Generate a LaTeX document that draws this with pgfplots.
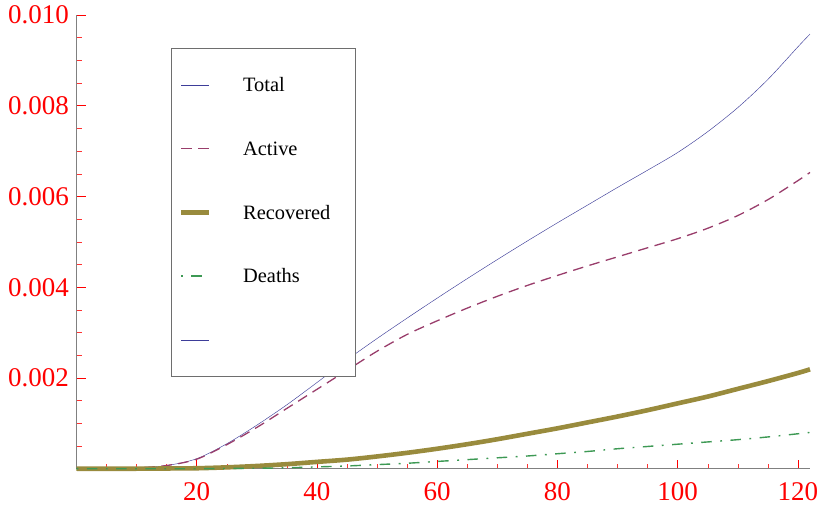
\documentclass[border=0pt]{standalone}
\usepackage{fontspec}
\setmainfont{Liberation Serif}
\usepackage{pgfplots}
\pgfplotsset{compat=1.18}
\definecolor{mBlue}{rgb}{0.24,0.24,0.6}
\definecolor{mPurple}{rgb}{0.6,0.24,0.42}
\definecolor{mOlive}{rgb}{0.6,0.545,0.24}
\definecolor{mGreen}{rgb}{0.24,0.6,0.33}
\begin{document}
\begin{tikzpicture}
\useasboundingbox (0,0) rectangle (830pt,514pt);
\begin{axis}[
  at={(76.5pt,45.3pt)}, anchor=south west,
  scale only axis, width=733.5pt, height=453.7pt,
  xmin=0, xmax=122, ymin=0, ymax=0.010,
  axis lines*=left,
  axis line style={draw=gray, line width=0.8pt},
  clip=false,
  xtick={20,40,60,80,100,120},
  minor xtick={5,10,15,25,30,35,45,50,55,65,70,75,85,90,95,105,110,115},
  ytick={0.002,0.004,0.006,0.008,0.010},
  minor ytick={0.0005,0.001,0.0015,0.0025,0.003,0.0035,0.0045,0.005,0.0055,0.0065,0.007,0.0075,0.0085,0.009,0.0095},
  tick align=inside,
  major tick length=9pt, minor tick length=5pt,
  major tick style={red, line width=0.6pt},
  minor tick style={red!80, line width=0.5pt},
  scaled y ticks=false,
  /pgf/number format/assume math mode=true,
  ticklabel style={red, font=\fontsize{27}{30}\selectfont, inner sep=0pt},
  xticklabel style={yshift=-13.3pt},
  yticklabel style={xshift=-7.3pt, /pgf/number format/fixed, /pgf/number format/fixed zerofill, /pgf/number format/precision=3},
  legend cell align=left,
  legend image code/.code={\pgfpathrectangle{\pgfpoint{-9.7pt}{-29.9pt}}{\pgfpoint{71.7pt}{63.7pt}}\pgfusepath{discard}\draw[#1] (0pt,1.95pt) -- (27.7pt,1.95pt);},
  legend style={at={(0.1292,0.9266)}, anchor=north west, draw={rgb,255:red,110;green,110;blue,110}, fill=white,
    inner xsep=0pt, inner ysep=4.6pt, row sep=0pt, font=\fontsize{20.4}{24}\selectfont,
    nodes={inner sep=0pt, text width=112pt, text height=14pt, text depth=4.5pt}},
]
\addplot[mBlue, line width=0.45pt, smooth] coordinates {
(0,0.00001)(5,0.00001)(10,0.00002)(15,0.00007)(20,0.00022)(25,0.00055)(30,0.00096)(35,0.00141)(40,0.00190)(45,0.00240)(50,0.00287)(55,0.00332)(60,0.00376)(65,0.00419)(70,0.00461)(75,0.00502)(80,0.00542)(85,0.00581)(90,0.00620)(95,0.00658)(100,0.00697)(105,0.00743)(110,0.00796)(115,0.00858)(120,0.00930)(122,0.00958)};
\addlegendentry{Total}
\addplot[mPurple, line width=1.3pt, dash pattern=on 10.5pt off 6.5pt, smooth] coordinates {
(0,0.00001)(5,0.00001)(10,0.00002)(15,0.00007)(20,0.00021)(25,0.00053)(30,0.00091)(35,0.00133)(40,0.00175)(45,0.00217)(50,0.00259)(55,0.00296)(60,0.00326)(65,0.00354)(70,0.00380)(75,0.00404)(80,0.00426)(85,0.00447)(90,0.00467)(95,0.00487)(100,0.00507)(105,0.00530)(110,0.00558)(115,0.00593)(120,0.00635)(122,0.00653)};
\addlegendentry{Active}
\addplot[mOlive, line width=4.6pt, smooth] coordinates {
(0,0)(10,0)(15,0.000005)(20,0.00001)(25,0.00003)(30,0.00006)(35,0.00010)(40,0.00015)(45,0.00020)(50,0.00027)(55,0.00035)(60,0.00044)(65,0.00054)(70,0.00065)(75,0.00077)(80,0.00089)(85,0.00102)(90,0.00115)(95,0.00129)(100,0.00144)(105,0.00159)(110,0.00176)(115,0.00193)(120,0.00211)(122,0.00219)};
\addlegendentry{Recovered}
\addplot[mGreen, line width=1.4pt, dash pattern=on 1.8pt off 8.5pt on 10.5pt off 8.5pt, smooth] coordinates {
(0,0)(20,0)(25,0.000005)(30,0.00001)(35,0.00002)(40,0.00004)(45,0.00006)(50,0.00009)(55,0.00012)(60,0.00016)(65,0.00020)(70,0.00024)(75,0.00028)(80,0.00033)(85,0.00038)(90,0.00044)(95,0.00049)(100,0.00054)(105,0.00059)(110,0.00064)(115,0.00070)(120,0.00077)(122,0.00080)};
\addlegendentry{Deaths}
\addlegendimage{mBlue, line width=0.45pt}
\addlegendentry{}
\end{axis}
\end{tikzpicture}
\end{document}
